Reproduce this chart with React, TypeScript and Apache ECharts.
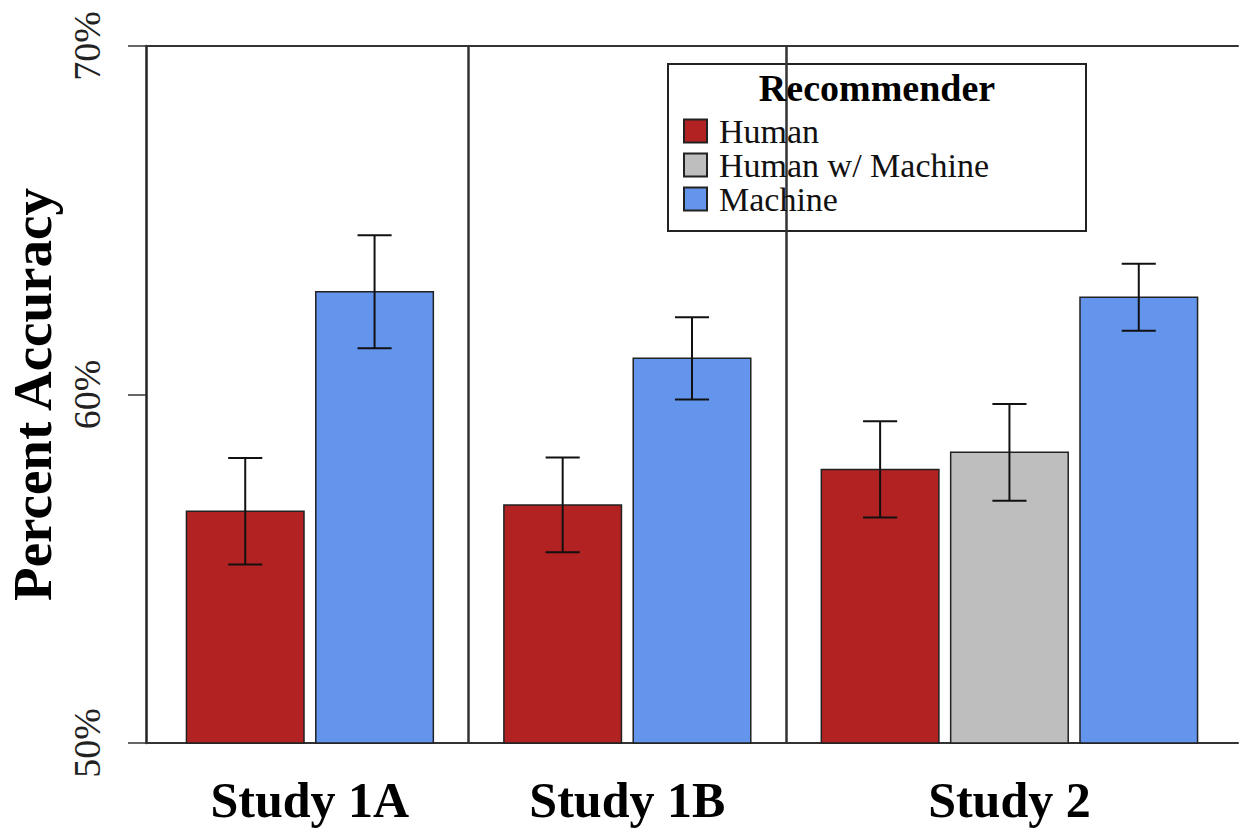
import React, { useEffect, useRef } from "react";
import * as echarts from "echarts";

// ---- data ----
const studies = ["Study 1A", "Study 1B", "Study 2"];
const recommenders = ["Human", "Human w/ Machine", "Machine"];
const humanMean: (number | null)[] = [56.65, 56.83, 57.85];
const humanWithMachineMean: (number | null)[] = [null, null, 58.34];
const machineMean: (number | null)[] = [62.95, 61.04, 62.79];
const humanSE: (number | null)[] = [1.53, 1.36, 1.38];
const humanWithMachineSE: (number | null)[] = [null, null, 1.39];
const machineSE: (number | null)[] = [1.62, 1.18, 0.96];
const yTicks = [50, 60, 70];

// ---- styles / layout ----
const colors = ["#B22222", "#BEBEBE", "#6495ED"];
const means = [humanMean, humanWithMachineMean, machineMean];
const ses = [humanSE, humanWithMachineSE, machineSE];
const SERIF = "'Liberation Serif', 'Times New Roman', serif";
const BAR_W = 1;
const INNER = 0.1;
const OUTER = 0.6;
const CAP = 0.29;

type Pos = { s: number; r: number; x: number };
const barPos: Pos[] = [];
const groupCenters: number[] = [];
const dividers: number[] = [];
let cursor = 0;
studies.forEach((_, s) => {
  cursor += OUTER;
  if (s > 0) dividers.push(cursor - OUTER / 2);
  const start = cursor;
  let first = true;
  recommenders.forEach((__, r) => {
    if (means[r][s] == null) return;
    if (!first) cursor += INNER;
    first = false;
    barPos.push({ s, r, x: cursor + BAR_W / 2 });
    cursor += BAR_W;
  });
  groupCenters.push((start + cursor) / 2);
});
const span = cursor - OUTER;
const xMin = OUTER - 0.04 * span;
const xMax = cursor + 0.04 * span;
const yMin = yTicks[0];
const yMax = yTicks[yTicks.length - 1];

export default function App() {
  const ref = useRef<HTMLDivElement>(null);
  useEffect(() => {
    if (!ref.current) return;
    const chart = echarts.init(ref.current, null, { renderer: "svg" });

    const barSeries = recommenders.map((name, r) => ({
      type: "custom",
      name,
      z: 2,
      itemStyle: { color: colors[r], borderColor: "#222", borderWidth: 1.5 },
      encode: { x: 0, y: 1 },
      data: barPos.filter((p) => p.r === r).map((p) => [p.x, means[r][p.s] as number]),
      renderItem: (params: any, api: any) => {
        const x = api.value(0);
        const y = api.value(1);
        const p0 = api.coord([x - BAR_W / 2, yMin]);
        const p1 = api.coord([x + BAR_W / 2, y]);
        return {
          type: "rect",
          shape: { x: p0[0], y: p1[1], width: p1[0] - p0[0], height: p0[1] - p1[1] },
          style: { fill: colors[r], stroke: "#222", lineWidth: 1.5 },
        };
      },
    }));

    const errSeries = {
      type: "custom",
      z: 3,
      silent: true,
      encode: { x: 0, y: 1 },
      data: barPos.map((p) => [p.x, means[p.r][p.s] as number, ses[p.r][p.s] as number]),
      renderItem: (params: any, api: any) => {
        const x = api.value(0);
        const m = api.value(1);
        const e = api.value(2);
        const top = api.coord([x, m + e]);
        const bot = api.coord([x, m - e]);
        const l = api.coord([x - CAP / 2, m])[0];
        const rr = api.coord([x + CAP / 2, m])[0];
        const st = { stroke: "#111", lineWidth: 2 };
        return {
          type: "group",
          children: [
            { type: "line", shape: { x1: top[0], y1: top[1], x2: bot[0], y2: bot[1] }, style: st },
            { type: "line", shape: { x1: l, y1: top[1], x2: rr, y2: top[1] }, style: st },
            { type: "line", shape: { x1: l, y1: bot[1], x2: rr, y2: bot[1] }, style: st },
          ],
        };
      },
      markLine: {
        silent: true,
        symbol: ["none", "none"],
        label: { show: false },
        lineStyle: { color: "#333", width: 2.5, type: "solid" },
        data: dividers.map((d) => ({ xAxis: d })),
      },
    };

    chart.setOption({
      animation: false,
      backgroundColor: "#ffffff",
      grid: { left: 146, right: 1, top: 46, bottom: 93, containLabel: false, outerBoundsMode: "none" },
      xAxis: [
        {
          type: "value",
          min: xMin,
          max: xMax,
          position: "bottom",
          splitLine: { show: false },
          axisTick: { show: false },
          axisLine: { show: true, onZero: false, lineStyle: { color: "#333", width: 2 } },
          axisLabel: {
            customValues: groupCenters,
            formatter: (v: number) => {
              const i = groupCenters.findIndex((c) => Math.abs(c - v) < 1e-6);
              return i >= 0 ? studies[i] : "";
            },
            fontFamily: SERIF,
            fontWeight: "bold",
            fontSize: 50,
            color: "#000",
            margin: 32,
          },
        },
        {
          type: "value",
          min: xMin,
          max: xMax,
          position: "top",
          splitLine: { show: false },
          axisTick: { show: false },
          axisLabel: { show: false },
          axisLine: { show: true, onZero: false, lineStyle: { color: "#333", width: 2 } },
        },
      ],
      yAxis: {
        type: "value",
        min: yMin,
        max: yMax,
        interval: 10,
        splitLine: { show: false },
        axisLine: { show: true, lineStyle: { color: "#222", width: 2.5 } },
        axisTick: { show: true, length: 18, lineStyle: { color: "#333", width: 1.5 } },
        axisLabel: {
          rotate: 90,
          align: "center",
          verticalAlign: "bottom",
          formatter: "{value}%",
          fontFamily: SERIF,
          fontSize: 38,
          color: "#222",
          margin: 40,
        },
        name: "Percent Accuracy",
        nameLocation: "middle",
        nameGap: 78,
        nameTextStyle: { fontFamily: SERIF, fontWeight: "bold", fontSize: 55, color: "#000" },
      },
      legend: {
        orient: "vertical",
        left: 683,
        top: 114,
        padding: 0,
        itemGap: 0,
        itemWidth: 23,
        itemHeight: 23,
        icon: "rect",
        z: 10,
        selectedMode: false,
        data: recommenders,
        textStyle: { fontFamily: SERIF, fontSize: 34, color: "#111", lineHeight: 34, padding: [0, 0, 0, 7] },
      },
      graphic: [
        {
          type: "rect",
          z: 5,
          shape: { x: 668, y: 64, width: 418, height: 167 },
          style: { fill: "#fff", stroke: "#222", lineWidth: 2 },
        },
        {
          type: "text",
          z: 10,
          x: 877,
          y: 88,
          style: {
            text: "Recommender",
            fontFamily: SERIF,
            fontWeight: "bold",
            fontSize: 38,
            fill: "#000",
            align: "center",
            verticalAlign: "middle",
          },
        },
      ],
      series: [...barSeries, errSeries],
    });
    return () => chart.dispose();
  }, []);
  return <div ref={ref} style={{ position: "absolute", left: 0, top: 0, width: 1239, height: 836 }} />;
}
